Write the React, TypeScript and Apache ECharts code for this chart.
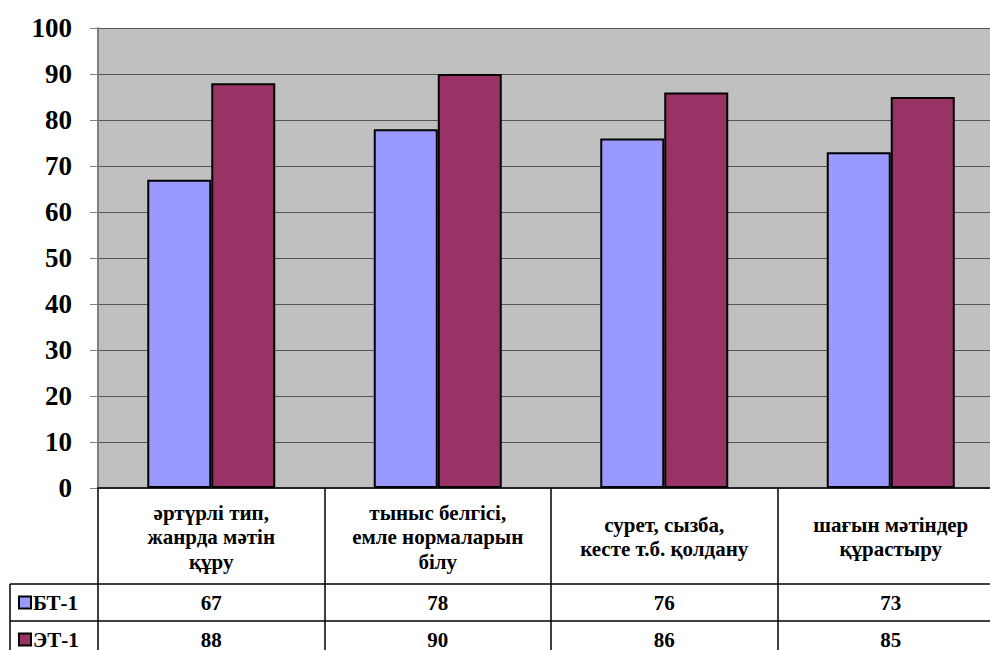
import React, { useEffect, useRef } from "react";
import * as echarts from "echarts";

const categories = [
  "әртүрлі тип,\nжанрда мәтін\nқұру",
  "тыныс белгісі,\nемле нормаларын\nбілу",
  "сурет, сызба,\nкесте т.б. қолдану",
  "шағын мәтіндер\nқұрастыру",
];
const seriesNames = ["БТ-1", "ЭТ-1"];
const bt1 = [67, 78, 76, 73];
const et1 = [88, 90, 86, 85];
const colors = ["#9999FF", "#993366"];

const FONT = "Liberation Serif, Times New Roman, DejaVu Serif, serif";

export default function App() {
  const ref = useRef<HTMLDivElement>(null);
  useEffect(() => {
    if (!ref.current) return;
    const chart = echarts.init(ref.current, undefined, { renderer: "svg" });
    const gl = 98, gt = 28, gw = 906, gh = 460;
    const band = gw / categories.length;
    const rowTop = 584, row2 = 621, bottom = 660;
    const lines: any[] = [];
    const ls = { stroke: "#000", lineWidth: 1.5 };
    for (let k = 0; k <= categories.length; k++) {
      const x = Math.round(gl + k * band);
      lines.push({
        type: "line",
        shape: { x1: x, y1: gt + gh, x2: x, y2: bottom },
        style: ls,
        z: 10,
      });
    }
    lines.push({ type: "line", shape: { x1: 10, y1: rowTop, x2: gl + gw, y2: rowTop }, style: ls, z: 10 });
    lines.push({ type: "line", shape: { x1: 10, y1: row2, x2: gl + gw, y2: row2 }, style: ls, z: 10 });
    lines.push({ type: "line", shape: { x1: 10, y1: rowTop, x2: 10, y2: bottom }, style: ls, z: 10 });

    const valueAxis = (vals: number[], offset: number) => ({
      type: "category",
      data: categories,
      position: "bottom",
      gridIndex: 0,
      offset,
      axisLine: { show: false },
      axisTick: { show: false },
      axisLabel: {
        formatter: (_v: string, i: number) => String(vals[i]),
        fontFamily: FONT,
        fontWeight: "bold",
        fontSize: 21,
        color: "#000",
        verticalAlign: "middle",
        margin: 0,
        interval: 0,
      },
    });

    const legendRow = (name: string, top: number) => ({
      left: 18,
      top,
      selectedMode: false,
      itemWidth: 12,
      itemHeight: 12,
      icon: "rect",
      padding: 0,
      textStyle: { fontFamily: FONT, fontWeight: "bold", fontSize: 21, color: "#000", padding: [0, 0, 0, -3] },
      data: [name],
    });

    chart.setOption({
      animation: false,
      textStyle: { fontFamily: FONT },
      grid: { left: gl, top: gt, width: gw, height: gh, show: true, backgroundColor: "#C0C0C0", borderWidth: 0 },
      legend: [legendRow(seriesNames[0], 592), legendRow(seriesNames[1], 629)],
      xAxis: [
        {
          type: "category",
          data: categories,
          axisLine: { show: true, lineStyle: { color: "#222", width: 2 } },
          axisTick: { show: false },
          axisLabel: {
            fontFamily: FONT,
            fontWeight: "bold",
            fontSize: 21,
            lineHeight: 24.5,
            color: "#000",
            verticalAlign: "middle",
            margin: 49,
            interval: 0,
          },
        },
        valueAxis(bt1, 114.5),
        valueAxis(et1, 151.5),
      ],
      yAxis: {
        type: "value",
        min: 0,
        max: 100,
        interval: 10,
        axisLine: { show: true, lineStyle: { color: "#808080", width: 2 } },
        axisTick: { show: true, length: 8, lineStyle: { color: "#808080", width: 1 } },
        splitLine: { show: true, lineStyle: { color: "#555", width: 1 } },
        axisLabel: { fontFamily: FONT, fontWeight: "bold", fontSize: 27, color: "#000", margin: 26 },
      },
      series: [
        {
          name: seriesNames[0],
          type: "bar",
          data: bt1,
          barWidth: 64,
          barGap: "0%",
          itemStyle: { color: colors[0], borderColor: "#000", borderWidth: 2 },
        },
        {
          name: seriesNames[1],
          type: "bar",
          data: et1,
          barWidth: 64,
          barGap: "0%",
          itemStyle: { color: colors[1], borderColor: "#000", borderWidth: 2 },
        },
      ],
      graphic: lines,
    });
    return () => chart.dispose();
  }, []);
  return (
    <div style={{ position: "fixed", left: 0, top: 0, width: 990, height: 650, overflow: "hidden", background: "#fff" }}>
      <div ref={ref} style={{ width: 1005, height: 650 }} />
    </div>
  );
}
